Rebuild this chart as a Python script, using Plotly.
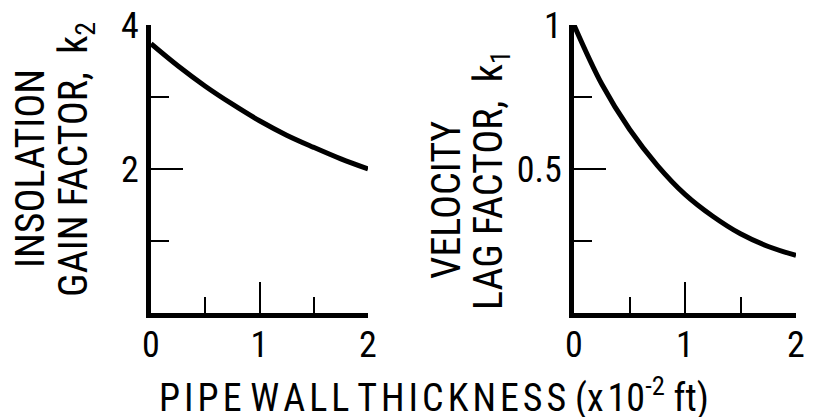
import plotly.graph_objects as go

# Data
thickness = [0.0, 0.25, 0.5, 0.75, 1.0, 1.25, 1.5, 1.75, 2.0]          # x 10^-2 ft
k2_insolation_gain = [3.74, 3.43, 3.15, 2.90, 2.67, 2.47, 2.30, 2.14, 2.00]
k1_velocity_lag = [1.00, 0.795, 0.638, 0.513, 0.412, 0.336, 0.275, 0.231, 0.200]

x_major = [0, 1, 2]
x_labels = ["0", "1", "2"]
x_minor = [0.5, 1.5]
k2_major = [2, 4]
k2_minor = [1, 3]
k1_major = [0.5, 1]
k1_labels = ["0.5", "1"]
k1_minor = [0.25, 0.75]

W, H = 815, 417
OFF = 8  # page body margin in the browser
FONT = "Roboto Condensed, Liberation Sans Narrow, Roboto, sans-serif"

fig = go.Figure()
fig.add_trace(go.Scatter(x=thickness, y=k2_insolation_gain, mode="lines",
                         line=dict(color="black", width=5, shape="spline"),
                         xaxis="x", yaxis="y", showlegend=False, hoverinfo="skip"))
fig.add_trace(go.Scatter(x=thickness, y=k1_velocity_lag, mode="lines",
                         line=dict(color="black", width=5, shape="spline"),
                         xaxis="x2", yaxis="y2", showlegend=False, hoverinfo="skip"))

def fx(px):
    return (px - OFF) / W

def fy(py):
    return 1 - (py - OFF) / H

ydom = [fy(313), fy(25)]

def xax(l, r, anchor):
    return dict(domain=[fx(l), fx(r)], anchor=anchor, range=[0, 2], tickvals=x_major, ticktext=x_labels,
                ticks="inside", ticklen=31, tickwidth=2, tickcolor="black",
                minor=dict(tickvals=x_minor, ticks="inside", ticklen=16, tickwidth=2, tickcolor="black"),
                showline=True, linewidth=5, linecolor="black", showgrid=False, zeroline=False,
                tickfont=dict(family=FONT, size=36, color="black"), ticklabelstandoff=-4,
                ticklabeloverflow="allow", automargin=False, fixedrange=True)

def yax(rng, vals, texts, minor, anchor):
    return dict(domain=ydom, anchor=anchor, range=rng, tickvals=vals, ticktext=texts,
                ticks="inside", ticklen=32, tickwidth=2, tickcolor="black",
                minor=dict(tickvals=minor, ticks="inside", ticklen=18, tickwidth=2, tickcolor="black"),
                showline=True, linewidth=5, linecolor="black", showgrid=False, zeroline=False,
                tickfont=dict(family=FONT, size=36, color="black"), ticklabelstandoff=0,
                ticklabeloverflow="allow", automargin=False, fixedrange=True)

fig.update_layout(
    width=W, height=H, margin=dict(l=0, r=0, t=0, b=0),
    paper_bgcolor="white", plot_bgcolor="white",
    xaxis=xax(151, 368, "y"),
    yaxis=yax([0, 4], k2_major, ["2", "4"], k2_minor, "x"),
    xaxis2=xax(574, 796, "y2"),
    yaxis2=yax([0, 1], k1_major, k1_labels, k1_minor, "x2"),
)

def ann(text, px, py, angle=0, size=36):
    fig.add_annotation(text=text, x=fx(px), y=fy(py), xref="paper", yref="paper",
                       showarrow=False, textangle=angle, xanchor="center", yanchor="middle",
                       font=dict(family=FONT, size=size, color="black"))

HS = "\u200a"
def spaced(word):
    return HS.join(word)

ann("INSOLATION", 30, 169, -90, 40)
ann("GAIN FACTOR,  k<sub>2</sub>", 76, 160, -90, 40)
ann("VELOCITY", 446, 200, -90, 40)
ann("LAG FACTOR,  k<sub>1</sub>", 491, 180, -90, 40)
ann(spaced("PIPE") + " " + spaced("WALL") + " " + spaced("THICKNESS") + " (x" + HS + "10<sup>-2</sup> ft)",
    434, 395, 0, 38)

fig.write_html("out.html")
